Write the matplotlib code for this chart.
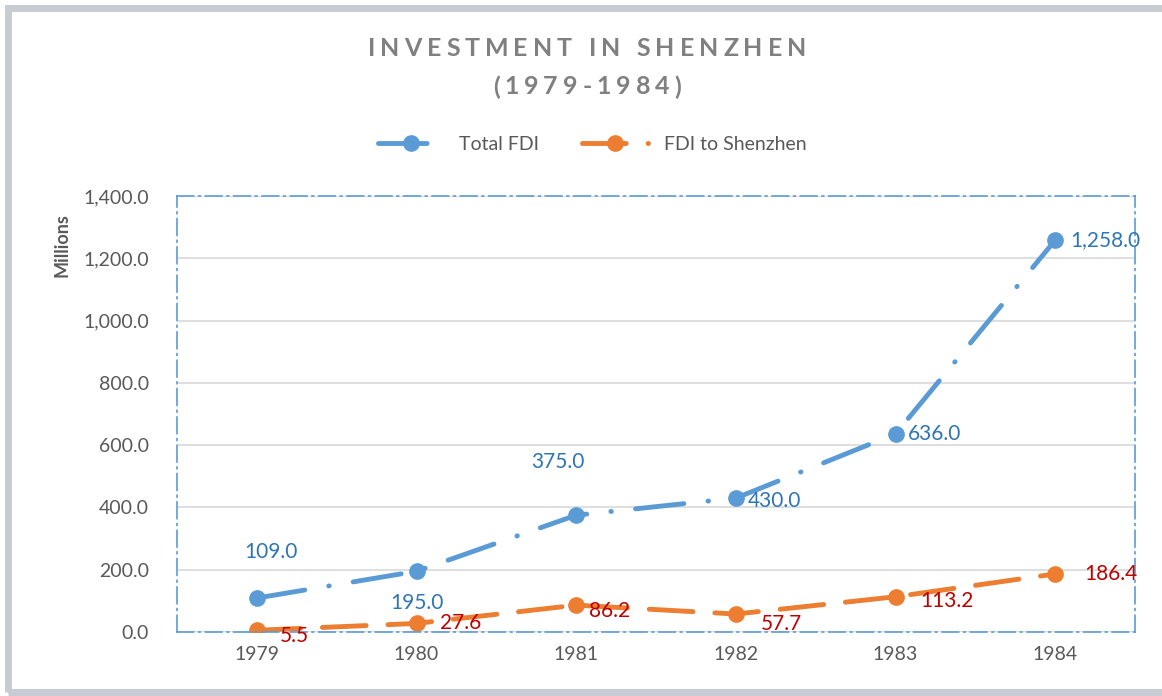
import matplotlib
matplotlib.use('Agg')
import matplotlib.pyplot as plt
from matplotlib.patches import Rectangle
from matplotlib.ticker import FuncFormatter

plt.rcParams['font.family'] = ['Lato', 'DejaVu Sans']

years = ['1979', '1980', '1981', '1982', '1983', '1984']
total_fdi = [109.0, 195.0, 375.0, 430.0, 636.0, 1258.0]
fdi_shenzhen = [5.5, 27.6, 86.2, 57.7, 113.2, 186.4]

blue = '#5b9bd5'
orange = '#ed7d31'
blue_txt = '#2e75b6'
red_txt = '#c00000'
grey = '#595959'

W, H = 1162, 696
fig = plt.figure(figsize=(W / 100, H / 100), dpi=100)
ax = fig.add_axes([177 / W, 1 - 632 / H, (1135 - 177) / W, (632 - 196) / H])

x = list(range(len(years)))
ax.plot(x, total_fdi, color=blue, lw=3.5, marker='o', ms=11,
        dashes=(10, 5, 0.1, 5), dash_capstyle='round', label='Total FDI')
ax.plot(x, fdi_shenzhen, color=orange, lw=3.5, marker='o', ms=11,
        dashes=(9, 4.5), dash_capstyle='round', label='FDI to Shenzhen')

ax.set_xlim(-0.5, 5.5)
ax.set_ylim(0, 1400)
ax.set_yticks(range(0, 1401, 200))
ax.yaxis.set_major_formatter(FuncFormatter(lambda v, p: f'{v:,.1f}'))
ax.set_xticks(x)
ax.set_xticklabels(years)
ax.tick_params(length=0, labelsize=14, colors=grey, pad=10)
ax.tick_params(axis='y', pad=20)
ax.grid(axis='y', color='#d9d9d9', lw=1.2)
ax.set_axisbelow(True)
for s in ax.spines.values():
    s.set_color(blue)
    s.set_linewidth(1.2)
    s.set_linestyle((0, (10, 3, 1, 3)))
ax.set_ylabel('Millions', fontsize=13, fontweight='bold', color=grey)
ax.yaxis.set_label_coords((71 - 177) / (1135 - 177), (632 - 245) / (632 - 196))

# data labels (offsets in points, as placed in the reference)
blue_off = [(10, 33), (0, -23), (-13, 38), (28, -2), (28, 0), (36, 0)]
for i, v in enumerate(total_fdi):
    ax.annotate(f'{v:,.1f}', (i, v), xytext=blue_off[i], textcoords='offset points',
                ha='center', va='center', color=blue_txt, fontsize=15)
red_off = [(27, -4), (32, 0), (24, -4), (33, -7), (37, -3), (40, 0)]
for i, v in enumerate(fdi_shenzhen):
    ax.annotate(f'{v:,.1f}', (i, v), xytext=red_off[i], textcoords='offset points',
                ha='center', va='center', color=red_txt, fontsize=15)

leg = fig.legend(loc='center', bbox_to_anchor=(592 / W, 1 - 144 / H), ncol=2,
                 frameon=False, fontsize=14, handlelength=3.4, columnspacing=2.2)
for t in leg.get_texts():
    t.set_color(grey)


# spaced title letters
def spaced_text(s, yc, size, spacing):
    r = fig.canvas.get_renderer()
    widths = []
    for ch in s:
        t = fig.text(0, 0, ch if ch != ' ' else 'i', fontsize=size, fontweight='bold')
        widths.append(t.get_window_extent(r).width)
        t.remove()
    total = sum(widths) + spacing * (len(s) - 1)
    xpos = 587 - total / 2
    for ch, w in zip(s, widths):
        if ch != ' ':
            fig.text(xpos / W, yc, ch, fontsize=size, fontweight='bold',
                     color='#808080', ha='left', va='center')
        xpos += w + spacing


spaced_text('INVESTMENT IN SHENZHEN', 1 - 49 / H, 18, 5)
spaced_text('(1979-1984)', 1 - 87 / H, 18, 5)

# chart border with shadow
fig.patches.append(Rectangle((8 / W, 4 / H), 1.1, 1 - 12 / H, transform=fig.transFigure,
                             fill=False, edgecolor='#c9cbd3', lw=5))

fig.savefig('out.png', dpi=100)
